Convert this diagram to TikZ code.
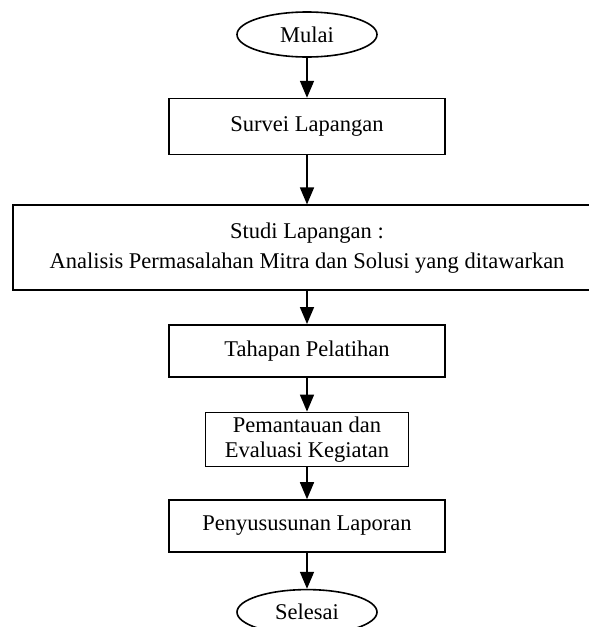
\documentclass[tikz,border=0pt]{standalone}
\usepackage{fontspec}
\setmainfont{Liberation Serif}
\usetikzlibrary{arrows.meta,positioning,shapes.geometric}
\tikzset{
    %Define standard arrow tip
    >={Triangle[length=17pt,width=14pt]},
    %Define style for start and end
    terminal/.style={
           ellipse,
           draw=black, line width=1.6pt,
           minimum width=140pt,
           minimum height=45pt,
           inner sep=0pt,
           font=\fontsize{22.5}{27}\selectfont,
           text centered},
    %Define style for boxes
    proses/.style={
           rectangle,
           draw=black, line width=1.6pt,
           minimum width=276pt,
           minimum height=52pt,
           inner sep=0pt,
           font=\fontsize{22.5}{27}\selectfont,
           align=center},
    % Define arrow style
    pil/.style={
           ->,
           line width=1.6pt}
}
\begin{document}
\begin{tikzpicture}
\useasboundingbox (0,0) rectangle (589pt,-627pt);
\node[terminal] (mulai) at (307pt,-34.5pt) {Mulai};
\node[proses, below=40pt of mulai, minimum height=56pt] (survei) {Survei Lapangan};
\node[proses, below=49pt of survei, minimum width=588pt, minimum height=85pt,
  font=\fontsize{22.5}{30}\selectfont] (studi)
  {Studi Lapangan :\\Analisis Permasalahan Mitra dan Solusi yang ditawarkan};
\node[proses, below=33pt of studi] (tahapan) {Tahapan Pelatihan};
\node[proses, below=34pt of tahapan, minimum width=203pt, minimum height=54pt,
  font=\fontsize{22.5}{25}\selectfont] (pantau)
  {Pemantauan dan\\Evaluasi Kegiatan};
\node[proses, below=32pt of pantau] (laporan) {Penyususunan Laporan};
\node[terminal, below=36pt of laporan] (selesai) {Selesai};
 \path[pil]
    (mulai) edge (survei)
    (survei) edge (studi)
    (studi) edge (tahapan)
    (tahapan) edge (pantau)
    (pantau) edge (laporan)
    (laporan) edge (selesai);
\end{tikzpicture}
\end{document}
